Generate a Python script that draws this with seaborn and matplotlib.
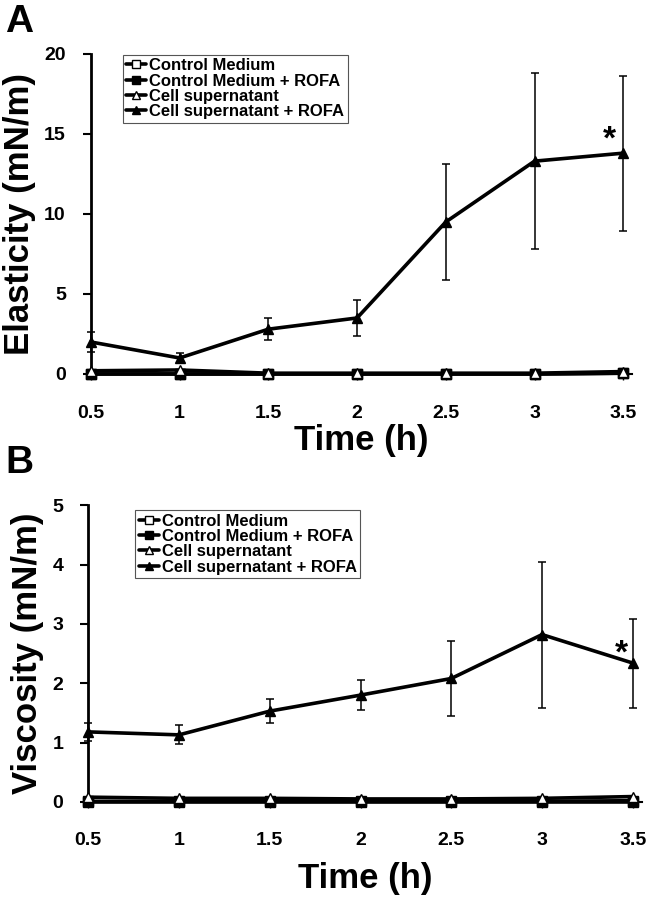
import matplotlib
matplotlib.use("Agg")
import matplotlib.pyplot as plt
import seaborn as sns

# time points (h)
time = [0.5, 1.0, 1.5, 2.0, 2.5, 3.0, 3.5]
time_labels = ["0.5", "1", "1.5", "2", "2.5", "3", "3.5"]

# --- Panel A: elasticity (mN/m) ---
elast_ctrl = [0.0, 0.0, 0.0, 0.0, 0.0, 0.0, 0.05]
elast_ctrl_rofa = [0.0, 0.0, 0.0, 0.0, 0.0, 0.0, 0.05]
elast_cell = [0.2, 0.25, 0.05, 0.05, 0.05, 0.05, 0.15]
elast_cell_rofa = [2.0, 1.0, 2.8, 3.5, 9.5, 13.3, 13.8]
elast_cell_rofa_err = [0.65, 0.3, 0.7, 1.1, 3.6, 5.5, 4.85]

# --- Panel B: viscosity (mN/m) ---
visc_ctrl = [0.0, 0.0, 0.0, 0.0, 0.0, 0.0, 0.0]
visc_ctrl_rofa = [0.01, 0.01, 0.01, 0.01, 0.01, 0.01, 0.02]
visc_cell = [0.08, 0.06, 0.06, 0.05, 0.05, 0.06, 0.09]
visc_cell_rofa = [1.18, 1.13, 1.53, 1.8, 2.08, 2.82, 2.34]
visc_cell_rofa_err = [0.15, 0.16, 0.2, 0.25, 0.63, 1.23, 0.75]

labels = ["Control Medium", "Control Medium + ROFA",
          "Cell supernatant", "Cell supernatant + ROFA"]

sns.set_style("ticks")
plt.rcParams["font.family"] = ["Liberation Sans", "DejaVu Sans"]
plt.rcParams["font.weight"] = "bold"
for key in ["text.color", "axes.labelcolor", "xtick.color", "ytick.color", "axes.edgecolor"]:
    plt.rcParams[key] = "black"

fig = plt.figure(figsize=(6.49, 8.99), dpi=100)
axA = fig.add_axes([0.140, 0.584, 0.834, 0.356])
axB = fig.add_axes([0.136, 0.108, 0.853, 0.330])


def draw_panel(ax, series, err, ylim, yticks, ylabel, star_xy, leg_anchor, xpad):
    styles = [("s", "white"), ("s", "black"), ("^", "white"), ("^", "black")]
    for vals, lab, (mk, fc) in zip(series, labels, styles):
        sns.lineplot(x=time, y=vals, ax=ax, color="black", linewidth=2.6,
                     marker=mk, markersize=6.5, markerfacecolor=fc,
                     markeredgecolor="black", markeredgewidth=1.0,
                     label=lab, clip_on=False, zorder=3)
    ax.errorbar(time, series[3], yerr=err, fmt="none", ecolor="black",
                elinewidth=1.1, capsize=3, capthick=1.1, zorder=2, clip_on=False)

    ax.set_xlim(0.5, 3.55)
    ax.set_ylim(*ylim)
    ax.set_xticks(time)
    ax.set_xticklabels(time_labels)
    ax.set_yticks(yticks)
    ax.tick_params(axis="x", length=4, width=1, pad=18, labelsize=14)
    ax.tick_params(axis="y", length=6, width=1.5, pad=12, labelsize=14)
    for lbl in ax.get_xticklabels() + ax.get_yticklabels():
        lbl.set_fontweight("bold")
    sns.despine(ax=ax)
    ax.spines["left"].set_linewidth(2)
    ax.spines["bottom"].set_linewidth(1.5)

    ax.set_xlabel("Time (h)", fontsize=25, fontweight="bold", labelpad=xpad)
    ax.set_ylabel(ylabel, fontsize=25, fontweight="bold", labelpad=6)

    ax.text(star_xy[0], star_xy[1], "*", fontsize=24, fontweight="bold",
            ha="center", va="center")

    leg = ax.legend(loc="upper left", bbox_to_anchor=leg_anchor, borderaxespad=0,
                    fontsize=12, frameon=True, fancybox=False, framealpha=1,
                    handlelength=1.2, handletextpad=0.2, labelspacing=0.02,
                    borderpad=0.2, markerscale=0.8)
    leg.get_frame().set_edgecolor("#555555")
    leg.get_frame().set_linewidth(0.8)
    for t in leg.get_texts():
        t.set_fontweight("bold")


draw_panel(axA, [elast_ctrl, elast_ctrl_rofa, elast_cell, elast_cell_rofa],
           elast_cell_rofa_err, (0, 20), [0, 5, 10, 15, 20],
           "Elasticity (mN/m)", (3.42, 14.6), (0.059, 0.997), 2)
draw_panel(axB, [visc_ctrl, visc_ctrl_rofa, visc_cell, visc_cell_rofa],
           visc_cell_rofa_err, (0, 5), [0, 1, 2, 3, 4, 5],
           "Viscosity (mN/m)", (3.44, 2.5), (0.085, 0.983), 9)

fig.text(0.008, 0.995, "A", fontsize=28, fontweight="bold", ha="left", va="top")
fig.text(0.008, 0.505, "B", fontsize=28, fontweight="bold", ha="left", va="top")

fig.savefig("out.png", dpi=100)
